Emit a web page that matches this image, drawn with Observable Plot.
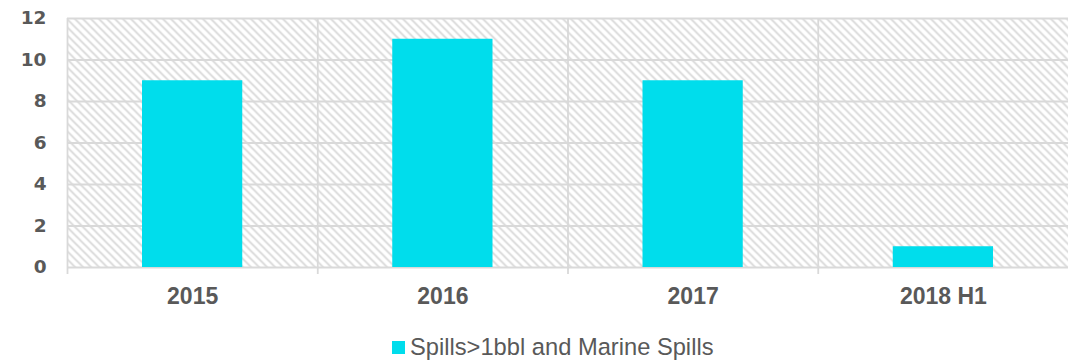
<!DOCTYPE html>
<html>
<head>
<meta charset="utf-8">
<script src="https://cdn.jsdelivr.net/npm/d3@7"></script>
<script src="https://cdn.jsdelivr.net/npm/@observablehq/plot@0.6"></script>
<style>
  body { margin: 0; background: #fff; font-family: "Liberation Sans", Arial, sans-serif; }
  #legend { position: relative; height: 41px; width: 1068px; }
  #legend .sw { position: absolute; left: 392px; top: 21px; width: 13px; height: 13px; background: #00DDEC; }
  #legend .lb { position: absolute; left: 410px; top: 13px; font-size: 23.7px; color: #595959; line-height: 28px; white-space: nowrap; }
</style>
</head>
<body>
<div id="chart"></div>
<div id="legend"><span class="sw"></span><span class="lb"></span></div>
<script>
const categories = ["2015", "2016", "2017", "2018 H1"];
const spills = [9, 11, 9, 1];
const yTicks = [0, 2, 4, 6, 8, 10, 12];
const seriesName = "Spills>1bbl and Marine Spills";

const data = categories.map((c, i) => ({ cat: c, idx: i, value: spills[i] }));
const boundaries = d3.range(categories.length + 1);

const grid = "#d9d9d9";
const textColor = "#595959";

const chart = Plot.plot({
  width: 1068,
  height: 320,
  marginLeft: 67,
  marginRight: 0,
  marginTop: 18,
  marginBottom: 53,
  style: { fontFamily: "'Liberation Sans', Arial, sans-serif", background: "#fff" },
  x: { type: "linear", domain: [0, categories.length], axis: null },
  y: { domain: [0, 12], axis: null },
  marks: [
    Plot.frame({ fill: "url(#hatch)", stroke: "none" }),
    Plot.ruleY(yTicks, { stroke: grid, strokeWidth: 1.8 }),
    Plot.ruleX(boundaries.slice(0, -1), { stroke: grid, strokeWidth: 1.8, insetBottom: -7 }),
    Plot.rectY(data, {
      x1: d => d.idx, x2: d => d.idx + 1, y1: 0, y2: "value",
      fill: "#00DDEC", insetLeft: 75, insetRight: 75
    }),
    Plot.axisY({
      ticks: yTicks, tickSize: 0, tickPadding: 21,
      fontSize: 18.5, fontWeight: "bold", fontFamily: "'DejaVu Sans', sans-serif",
      fill: textColor, label: null
    }),
    Plot.axisX({
      ticks: categories.map((c, i) => i + 0.5),
      tickFormat: v => categories[Math.floor(v)],
      tickSize: 0, tickPadding: 20,
      fontSize: 23, fontWeight: "bold", fill: textColor, label: null
    })
  ]
});

const defs = document.createElementNS("http://www.w3.org/2000/svg", "defs");
defs.innerHTML = `<pattern id="hatch" patternUnits="userSpaceOnUse" width="8" height="8">
  <rect width="8" height="8" fill="#fff"/>
  <path d="M-2,6 L2,10 M0,0 L8,8 M6,-2 L10,2" stroke="#d6d6d6" stroke-width="1.6"/>
</pattern>`;
chart.insertBefore(defs, chart.firstChild);

document.getElementById("chart").appendChild(chart);
document.querySelector("#legend .lb").textContent = seriesName;
</script>
</body>
</html>
